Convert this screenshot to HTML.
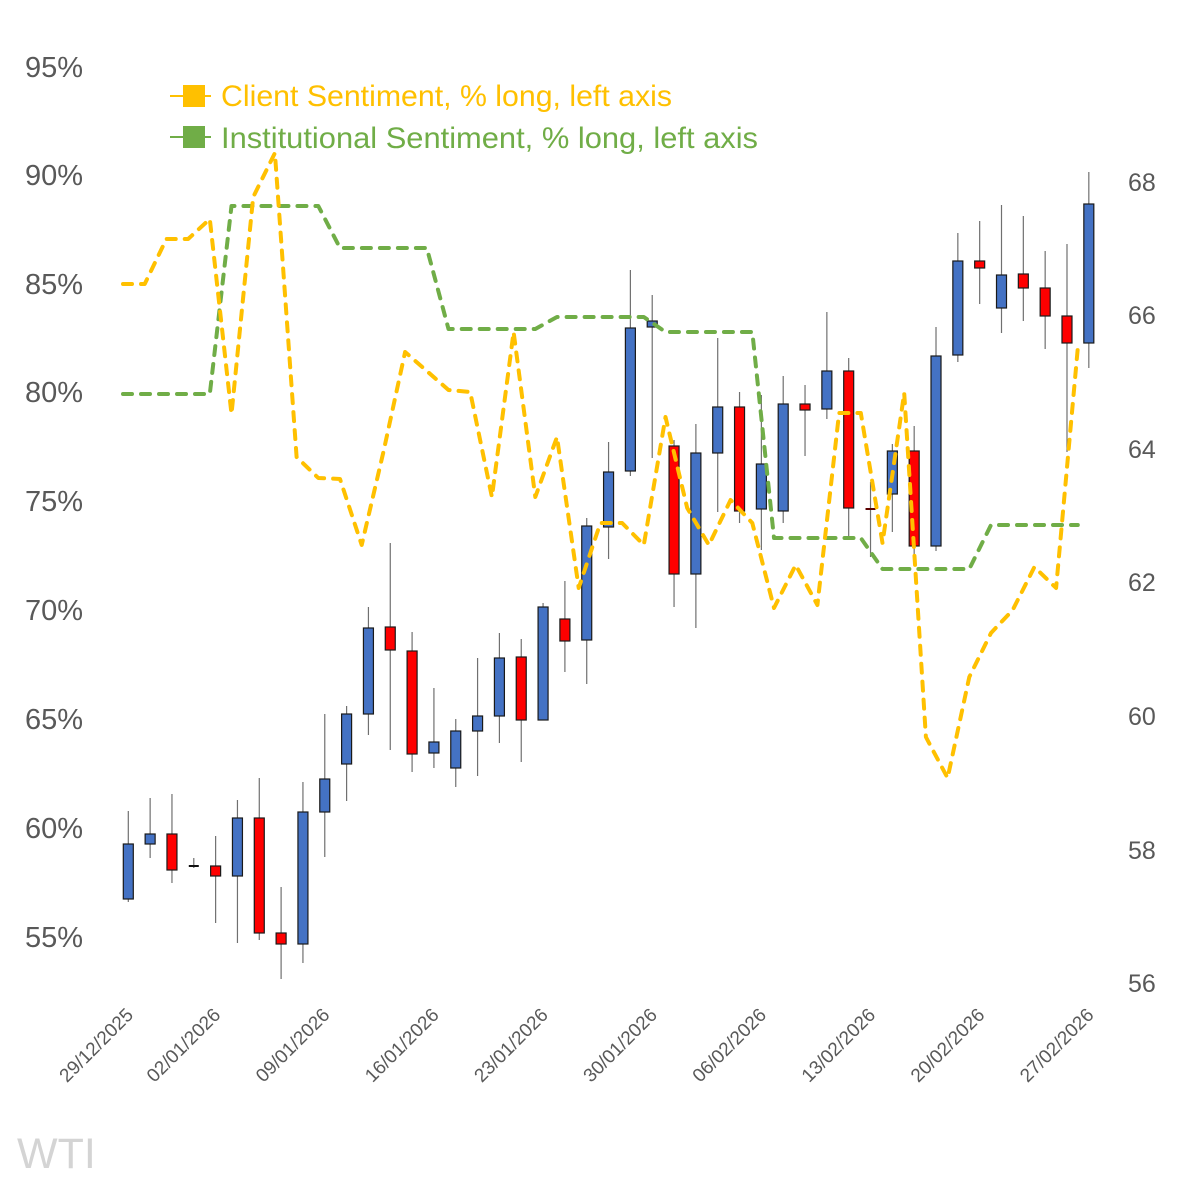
<!DOCTYPE html>
<html>
<head>
<meta charset="utf-8">
<style>
  html,body{margin:0;padding:0;background:#fff;}
  svg{display:block;}
  text{font-family:"Liberation Sans", Arial, sans-serif;}
</style>
</head>
<body>
<svg id="c" width="1181" height="1181" viewBox="0 0 1181 1181" xmlns="http://www.w3.org/2000/svg">
  <rect width="1181" height="1181" fill="#ffffff"/>

  <!-- Left axis -->
  <g fill="#595959" font-size="29" text-anchor="end">
    <text x="83" y="77">95%</text>
    <text x="83" y="185">90%</text>
    <text x="83" y="294">85%</text>
    <text x="83" y="402">80%</text>
    <text x="83" y="511">75%</text>
    <text x="83" y="620">70%</text>
    <text x="83" y="729">65%</text>
    <text x="83" y="838">60%</text>
    <text x="83" y="947">55%</text>
  </g>

  <!-- Right axis -->
  <g fill="#595959" font-size="25" text-anchor="start">
    <text x="1128" y="191">68</text>
    <text x="1128" y="324">66</text>
    <text x="1128" y="458">64</text>
    <text x="1128" y="591">62</text>
    <text x="1128" y="725">60</text>
    <text x="1128" y="859">58</text>
    <text x="1128" y="992">56</text>
  </g>

  <!-- Legend -->
  <line x1="170" y1="96" x2="211" y2="96" stroke="#FFC000" stroke-width="2"/>
  <rect x="183" y="85" width="22" height="22" fill="#FFC000"/>
  <text x="221" y="106" font-size="30" fill="#FFC000" textLength="451" lengthAdjust="spacingAndGlyphs">Client Sentiment, % long, left axis</text>
  <line x1="170" y1="137" x2="211" y2="137" stroke="#70AD47" stroke-width="2"/>
  <rect x="183" y="126" width="22" height="22" fill="#70AD47"/>
  <text x="221" y="148" font-size="30" fill="#70AD47" textLength="537" lengthAdjust="spacingAndGlyphs">Institutional Sentiment, % long, left axis</text>

  <!-- Candles -->
  <g id="candles"></g>

  <!-- Sentiment lines -->
  <polyline id="green" fill="none" stroke="#70AD47" stroke-width="4" stroke-dasharray="9 9" stroke-linecap="round" stroke-linejoin="round" points=""/>
  <polyline id="yellow" fill="none" stroke="#FFC000" stroke-width="4" stroke-dasharray="9 9" stroke-linecap="round" stroke-linejoin="round" points=""/>

  <!-- Date labels -->
  <g id="dates" fill="#595959" font-size="19"></g>

  <!-- Watermark -->
  <text x="17" y="1168" font-size="43" fill="#d4d4d4">WTI</text>
</svg>

<script>
(function(){
  var NS="http://www.w3.org/2000/svg";
  var data=[
    [811,844,899,902,'b'],[798,834,844,858,'b'],[794,834,870,883,'r'],[858,866,866,868,'d'],
    [836,866,876,923,'r'],[800,818,876,943,'b'],[778,818,933,940,'r'],[887,933,944,979,'r'],
    [782,812,944,963,'b'],[714,779,812,857,'b'],[706,714,764,801,'b'],[607,628,714,735,'b'],
    [543,627,650,750,'r'],[632,651,754,772,'r'],[688,742,753,768,'b'],[719,731,768,787,'b'],
    [658,716,731,776,'b'],[633,658,716,743,'b'],[639,657,720,762,'r'],[603,607,720,720,'b'],
    [581,619,641,672,'r'],[518,526,640,684,'b'],[442,472,527,559,'b'],[270,328,471,476,'b'],
    [295,321,327,458,'b'],[440,446,574,607,'r'],[424,453,574,628,'b'],[338,407,453,512,'b'],
    [392,407,511,523,'r'],[395,464,509,550,'b'],[376,404,511,523,'b'],[385,404,410,456,'r'],
    [312,371,409,419,'b'],[358,371,508,538,'r'],[482,509,509,557,'x'],[444,451,494,532,'b'],
    [426,451,546,558,'r'],[327,356,546,551,'b'],[233,261,355,362,'b'],[221,261,268,304,'r'],
    [205,275,308,333,'b'],[216,274,288,321,'r'],[251,288,316,349,'r'],[244,316,343,452,'r'],
    [172,204,343,368,'b']
  ];
  var g=document.getElementById('candles');
  function el(n,a){var e=document.createElementNS(NS,n);for(var k in a)e.setAttribute(k,a[k]);return e;}
  for(var i=0;i<data.length;i++){
    var d=data[i], x=128.3+21.83*i;
    g.appendChild(el('line',{x1:x,y1:d[0],x2:x,y2:d[3],stroke:'#707070','stroke-width':1.2}));
    if(d[4]==='d'||d[4]==='x'){
      g.appendChild(el('line',{x1:x-5,y1:d[1],x2:x+5,y2:d[1],stroke:d[4]==='x'?'#5a0000':'#111','stroke-width':2}));
    } else {
      var h=Math.max(d[2]-d[1],2);
      g.appendChild(el('rect',{x:x-5,y:d[1],width:10,height:h,fill:d[4]==='b'?'#4472C4':'#FF0000',stroke:'#1a1a1a','stroke-width':1.2}));
    }
  }
  var gy=[394,394,394,394,394,206,206,206,206,206,248,248,248,248,248,329,329,329,329,329,317,317,317,317,317,332,332,332,332,332,538,538,538,538,538,569,569,569,569,569,525,525,525,525,525];
  var yy=[284,284,239,239,219,414,197,153,457,478,479,545,452,352,371,390,392,497,332,497,437,588,523,523,545,417,508,545,500,523,608,565,605,413,413,543,393,737,778,677,633,610,567,588,348];
  function pts(a){var s=[];for(var i=0;i<a.length;i++)s.push((123+21.7*i).toFixed(1)+','+a[i]);return s.join(' ');}
  document.getElementById('green').setAttribute('points',pts(gy));
  document.getElementById('yellow').setAttribute('points',pts(yy));
  var labels=[[0,'29/12/2025'],[4,'02/01/2026'],[9,'09/01/2026'],[14,'16/01/2026'],[19,'23/01/2026'],[24,'30/01/2026'],[29,'06/02/2026'],[34,'13/02/2026'],[39,'20/02/2026'],[44,'27/02/2026']];
  var dg=document.getElementById('dates');
  for(var j=0;j<labels.length;j++){
    var lx=128.3+21.83*labels[j][0]+6, ly=1016;
    var t=el('text',{x:lx,y:ly,'text-anchor':'end',transform:'rotate(-45 '+lx+' '+ly+')'});
    t.textContent=labels[j][1];
    dg.appendChild(t);
  }
})();
</script>
</body>
</html>
